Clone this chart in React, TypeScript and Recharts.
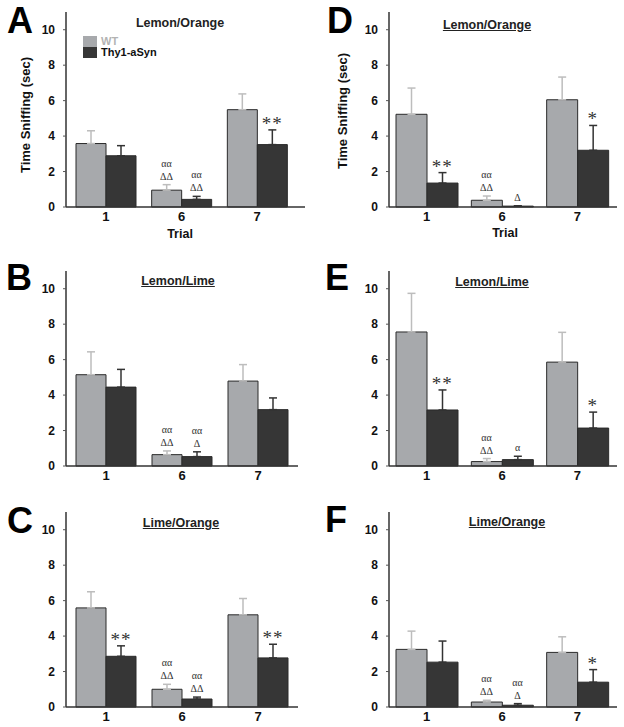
import React from 'react';
import { BarChart, Bar, XAxis, YAxis, ErrorBar, ReferenceDot, Legend } from 'recharts';

const TRIALS = ['1', '6', '7'];
const Y_TICKS = [0, 2, 4, 6, 8, 10];

// Panel A - Lemon/Orange
const A_WT = [3.58, 0.95, 5.49];
const A_WT_ERR = [0.72, 0.31, 0.89];
const A_TG = [2.89, 0.43, 3.52];
const A_TG_ERR = [0.57, 0.17, 0.83];
const A_WT_SIG = ['', 'αα\nΔΔ', ''];
const A_TG_SIG = ['', 'αα\nΔΔ', '**'];

// Panel B - Lemon/Lime
const B_WT = [5.15, 0.64, 4.79];
const B_WT_ERR = [1.29, 0.21, 0.93];
const B_TG = [4.45, 0.53, 3.18];
const B_TG_ERR = [1.0, 0.27, 0.66];
const B_WT_SIG = ['', 'αα\nΔΔ', ''];
const B_TG_SIG = ['', 'αα\nΔ', ''];

// Panel C - Lime/Orange
const C_WT = [5.59, 1.0, 5.2];
const C_WT_ERR = [0.91, 0.28, 0.92];
const C_TG = [2.86, 0.45, 2.77];
const C_TG_ERR = [0.59, 0.11, 0.77];
const C_WT_SIG = ['', 'αα\nΔΔ', ''];
const C_TG_SIG = ['**', 'αα\nΔΔ', '**'];

// Panel D - Lemon/Orange
const D_WT = [5.23, 0.38, 6.05];
const D_WT_ERR = [1.48, 0.24, 1.28];
const D_TG = [1.35, 0.05, 3.2];
const D_TG_ERR = [0.59, 0.02, 1.4];
const D_WT_SIG = ['', 'αα\nΔΔ', ''];
const D_TG_SIG = ['**', 'Δ', '*'];

// Panel E - Lemon/Lime
const E_WT = [7.56, 0.25, 5.86];
const E_WT_ERR = [2.18, 0.17, 1.68];
const E_TG = [3.16, 0.36, 2.14];
const E_TG_ERR = [1.13, 0.19, 0.9];
const E_WT_SIG = ['', 'αα\nΔΔ', ''];
const E_TG_SIG = ['**', 'α', '*'];

// Panel F - Lime/Orange
const F_WT = [3.25, 0.28, 3.08];
const F_WT_ERR = [1.03, 0.1, 0.88];
const F_TG = [2.53, 0.1, 1.4];
const F_TG_ERR = [1.19, 0.09, 0.71];
const F_WT_SIG = ['', 'αα\nΔΔ', ''];
const F_TG_SIG = ['', 'αα\nΔ', '*'];

const SANS = '"Liberation Sans", Arial, sans-serif';
const SERIF = '"Liberation Serif", "DejaVu Serif", serif';
const WT_FILL = '#a7a9ac';
const TG_FILL = '#363636';
const OUTLINE = '#2a2a2a';

function buildData(wt: number[], wtErr: number[], tg: number[], tgErr: number[]) {
  return TRIALS.map((t, i) => ({
    trial: t,
    wt: wt[i],
    wtE: [0, wtErr[i]],
    tg: tg[i],
    tgE: [0, tgErr[i]],
  }));
}

function sigLabel(text: string, dx: number, color: string) {
  return (props: any) => {
    const vb = props.viewBox || {};
    const cx = (vb.x || 0) + (vb.width || 0) / 2 + dx;
    const cy = (vb.y || 0) + (vb.height || 0) / 2;
    const lines = text.split('\n');
    const star = text.indexOf('*') >= 0;
    const fs = star ? 19 : 10;
    const base = star ? 0 : 5;
    return (
      <g>
        {lines.map((ln, k) => (
          <text
            key={k}
            x={cx}
            y={cy - base - (lines.length - 1 - k) * 13}
            textAnchor="middle"
            fontFamily={SERIF}
            fontSize={fs}
            letterSpacing={star ? 1 : 0}
            fill={color}
          >
            {ln}
          </text>
        ))}
      </g>
    );
  };
}

function LegendBox() {
  const row = (fill: string, label: string, color: string) => (
    <div style={{ display: 'flex', alignItems: 'center', height: 11 }}>
      <div style={{ width: 14, height: 11, background: fill }} />
      <span style={{ marginLeft: 4, color, fontFamily: SANS, fontWeight: 'bold', fontSize: 11, lineHeight: '11px' }}>{label}</span>
    </div>
  );
  return (
    <div>
      {row(WT_FILL, 'WT', '#b3b3b3')}
      {row(TG_FILL, 'Thy1-aSyn', '#111')}
    </div>
  );
}

type PanelProps = {
  wt: number[];
  wtErr: number[];
  tg: number[];
  tgErr: number[];
  wtSig: string[];
  tgSig: string[];
  left: number;
  top: number;
  yAxisWidth: number;
  marginRight: number;
  padLeft: number;
  padRight: number;
  barSize: number;
  legend?: boolean;
};

function Panel(p: PanelProps) {
  const data = buildData(p.wt, p.wtErr, p.tg, p.tgErr);
  const half = p.barSize / 2;
  const tickStyle = { fontFamily: SANS, fontWeight: 'bold' as const, fontSize: 12, fill: '#111' };
  return (
    <div style={{ position: 'absolute', left: p.left, top: p.top }}>
      <BarChart
        width={312}
        height={227}
        data={data}
        margin={{ top: 12, right: p.marginRight, left: 0, bottom: 0 }}
        barGap={0}
        barSize={p.barSize}
      >
        <XAxis
          dataKey="trial"
          height={20}
          padding={{ left: p.padLeft, right: p.padRight }}
          axisLine={{ stroke: '#333', strokeWidth: 1.5 }}
          tickLine={false}
          tickSize={2}
          tickMargin={3}
          tick={{ ...tickStyle, fontSize: 13 }}
        />
        <YAxis
          width={p.yAxisWidth}
          domain={[0, 11]}
          ticks={Y_TICKS}
          interval={0}
          axisLine={{ stroke: '#333', strokeWidth: 1.5 }}
          tickLine={{ stroke: '#555' }}
          tickSize={3}
          tickMargin={8}
          tick={tickStyle}
        />
        {p.legend && (
          <Legend
            layout="vertical"
            verticalAlign="middle"
            align="center"
            content={() => <LegendBox />}
            wrapperStyle={{ top: 36, left: 83, width: 120, height: 22 }}
          />
        )}
        <Bar dataKey="wt" name="WT" fill={WT_FILL} stroke={OUTLINE} strokeWidth={1} isAnimationActive={false}>
          <ErrorBar dataKey="wtE" direction="y" width={4} stroke="#bdbdbd" strokeWidth={1.5} />
        </Bar>
        <Bar dataKey="tg" name="Thy1-aSyn" fill={TG_FILL} stroke={OUTLINE} strokeWidth={1} isAnimationActive={false}>
          <ErrorBar dataKey="tgE" direction="y" width={4} stroke="#333" strokeWidth={1.5} />
        </Bar>
        {TRIALS.map((t, i) =>
          p.wtSig[i] ? (
            <ReferenceDot
              key={'w' + t}
              x={t}
              y={p.wt[i] + p.wtErr[i]}
              r={1}
              fill="none"
              stroke="none"
              label={sigLabel(p.wtSig[i], -half, '#333')}
            />
          ) : null
        )}
        {TRIALS.map((t, i) =>
          p.tgSig[i] ? (
            <ReferenceDot
              key={'t' + t}
              x={t}
              y={p.tg[i] + p.tgErr[i]}
              r={1}
              fill="none"
              stroke="none"
              label={sigLabel(p.tgSig[i], half, '#333')}
            />
          ) : null
        )}
      </BarChart>
    </div>
  );
}

function Letter({ ch, left, top }: { ch: string; left: number; top: number }) {
  return (
    <div style={{ position: 'absolute', left, top, fontFamily: SANS, fontWeight: 'bold', fontSize: 36, lineHeight: '28px', color: '#000' }}>
      {ch}
    </div>
  );
}

function Title({ text, cx, top, underline }: { text: string; cx: number; top: number; underline: boolean }) {
  return (
    <div
      style={{
        position: 'absolute',
        left: cx,
        top,
        transform: 'translateX(-50%)',
        whiteSpace: 'nowrap',
        fontFamily: SANS,
        fontWeight: 'bold',
        fontSize: 12.5,
        lineHeight: '14px',
        color: '#222',
        textDecoration: underline ? 'underline' : 'none',
      }}
    >
      {text}
    </div>
  );
}

function YLabel({ cx, cy }: { cx: number; cy: number }) {
  return (
    <div
      style={{
        position: 'absolute',
        left: cx,
        top: cy,
        transform: 'translate(-50%, -50%) rotate(-90deg)',
        whiteSpace: 'nowrap',
        fontFamily: SANS,
        fontWeight: 'bold',
        fontSize: 13,
        lineHeight: '14px',
        color: '#111',
      }}
    >
      Time Sniffing (sec)
    </div>
  );
}

function TrialLabel({ cx, top }: { cx: number; top: number }) {
  return (
    <div
      style={{
        position: 'absolute',
        left: cx,
        top,
        transform: 'translateX(-50%)',
        fontFamily: SANS,
        fontWeight: 'bold',
        fontSize: 12.5,
        lineHeight: '14px',
        color: '#111',
      }}
    >
      Trial
    </div>
  );
}

export default function App() {
  const leftCol = { left: 0, yAxisWidth: 66, padLeft: 2, barSize: 30 };
  const rightCol = { left: 312, yAxisWidth: 77, marginRight: 7, padLeft: 0, padRight: 2, barSize: 31 };
  return (
    <div style={{ position: 'absolute', left: 0, top: 0, width: 624, height: 727, overflow: 'hidden', background: '#fff' }}>
      <Panel wt={A_WT} wtErr={A_WT_ERR} tg={A_TG} tgErr={A_TG_ERR} wtSig={A_WT_SIG} tgSig={A_TG_SIG}
        {...leftCol} top={0} marginRight={7} padRight={10} legend />
      <Panel wt={B_WT} wtErr={B_WT_ERR} tg={B_TG} tgErr={B_TG_ERR} wtSig={B_WT_SIG} tgSig={B_TG_SIG}
        {...leftCol} top={259} marginRight={14} padRight={2} />
      <Panel wt={C_WT} wtErr={C_WT_ERR} tg={C_TG} tgErr={C_TG_ERR} wtSig={C_WT_SIG} tgSig={C_TG_SIG}
        {...leftCol} top={500} marginRight={14} padRight={2} />
      <Panel wt={D_WT} wtErr={D_WT_ERR} tg={D_TG} tgErr={D_TG_ERR} wtSig={D_WT_SIG} tgSig={D_TG_SIG}
        {...rightCol} top={0} />
      <Panel wt={E_WT} wtErr={E_WT_ERR} tg={E_TG} tgErr={E_TG_ERR} wtSig={E_WT_SIG} tgSig={E_TG_SIG}
        {...rightCol} top={259} />
      <Panel wt={F_WT} wtErr={F_WT_ERR} tg={F_TG} tgErr={F_TG_ERR} wtSig={F_WT_SIG} tgSig={F_TG_SIG}
        {...rightCol} top={500} />

      <Letter ch="A" left={7} top={7} />
      <Letter ch="B" left={6} top={264} />
      <Letter ch="C" left={7} top={507} />
      <Letter ch="D" left={327} top={7} />
      <Letter ch="E" left={325} top={264} />
      <Letter ch="F" left={325} top={506} />

      <Title text="Lemon/Orange" cx={180} top={16} underline={false} />
      <Title text="Lemon/Lime" cx={178} top={274} underline />
      <Title text="Lime/Orange" cx={181} top={516} underline />
      <Title text="Lemon/Orange" cx={487} top={18} underline />
      <Title text="Lemon/Lime" cx={492} top={275} underline />
      <Title text="Lime/Orange" cx={507} top={515} underline />

      <YLabel cx={26} cy={115} />
      <YLabel cx={343} cy={111} />
      <TrialLabel cx={180} top={227} />
      <TrialLabel cx={505} top={226} />
    </div>
  );
}
